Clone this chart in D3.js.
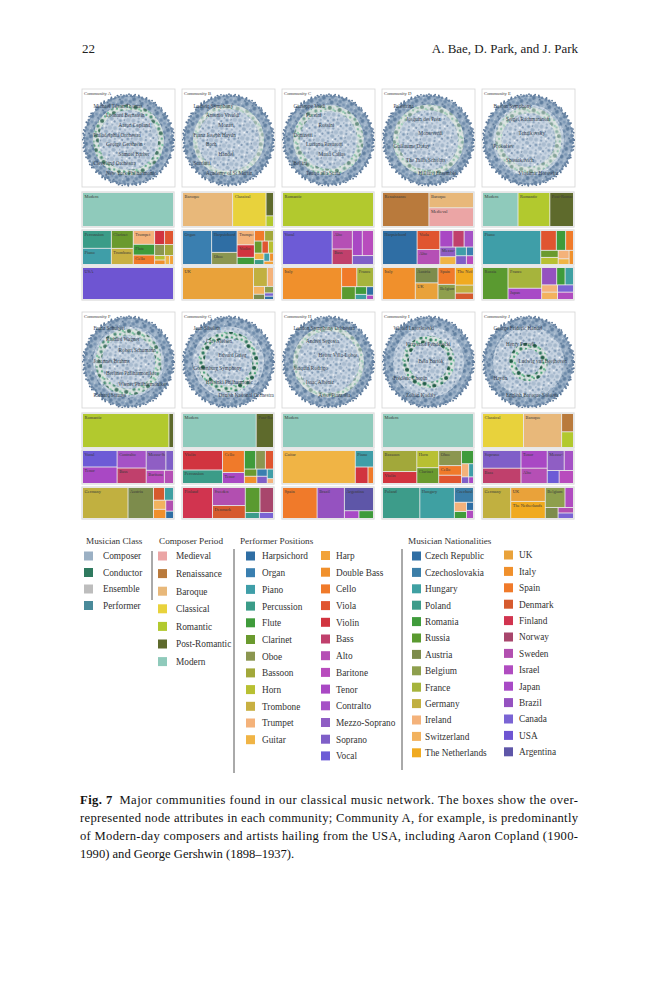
<!DOCTYPE html>
<html><head><meta charset="utf-8">
<script src="https://cdn.jsdelivr.net/npm/d3@7"></script>
<style>body{margin:0;background:#fff}svg{display:block}text{font-family:"Liberation Serif","DejaVu Serif",serif}</style>
</head><body>
<script>
// ---------------- DATA ----------------
const communityNames = ["Community A","Community B","Community C","Community D","Community E",
  "Community F","Community G","Community H","Community I","Community J"];

const musicianClasses = ["Composer","Conductor","Ensemble","Performer"];
const composerPeriods = ["Medieval","Renaissance","Baroque","Classical","Romantic","Post-Romantic","Modern"];
const performerPositions = ["Harpsichord","Organ","Piano","Percussion","Flute","Clarinet","Oboe","Bassoon","Horn","Trombone","Trumpet","Guitar",
  "Harp","Double Bass","Cello","Viola","Violin","Bass","Alto","Baritone","Tenor","Contralto","Mezzo-Soprano","Soprano","Vocal"];
const nationalities = ["Czech Republic","Czechoslovakia","Hungary","Poland","Romania","Russia","Austria","Belgium","France","Germany","Ireland","Switzerland","The Netherlands",
  "UK","Italy","Spain","Denmark","Finland","Norway","Sweden","Israel","Japan","Brazil","Canada","USA","Argentina"];

// share (%) of each over-represented attribute per community
const periodTreemaps = [
  [["Modern",100]],
  [["Baroque",54],["Classical",36],["Post-Romantic",5.5],["Romantic",2.5]],
  [["Romantic",100]],
  [["Renaissance",51],["Baroque",22],["Medieval",27]],
  [["Modern",39],["Romantic",35],["Post-Romantic",26]],
  [["Romantic",95],["Post-Romantic",5]],
  [["Modern",81],["Post-Romantic",19]],
  [["Modern",100]],
  [["Modern",100]],
  [["Classical",45],["Baroque",42],["Renaissance",7],["Romantic",6]]
];
const positionTreemaps = [
  [["Percussion",16.5],["Piano",15],["Clarinet",12.6],["Trombone",11.4],["Trumpet",9.5],["Flute",7.4],["Cello",6.5],["Violin",4.5],["Viola",4],["Oboe",3.5],["Bassoon",3.2],["Horn",1.5],["Double Bass",1.5],["Guitar",1.3],["Harp",1.1]],
  [["Organ",32],["Harpsichord",18],["Oboe",10],["Trumpet",8],["Violin",7],["Flute",4],["Cello",3.5],["Bassoon",3],["Clarinet",3],["Viola",2.5],["Horn",2],["Guitar",2],["Percussion",1.5],["Piano",1.5],["Double Bass",1],["Harp",1]],
  [["Vocal",54],["Alto",12],["Bass",10],["Tenor",8],["Baritone",9],["Soprano",6]],
  [["Harpsichord",38],["Viola",14],["Alto",11],["Tenor",7],["Bass",6],["Contralto",5],["Mezzo-Soprano",5],["Guitar",4],["Piano",3],["Soprano",3],["Organ",2],["Baritone",2]],
  [["Piano",64],["Viola",10],["Flute",6],["Cello",5],["Clarinet",4],["Horn",4],["Trumpet",3],["Guitar",2],["Double Bass",2]],
  [["Vocal",19],["Tenor",19],["Contralto",17],["Bass",15],["Mezzo-Soprano",13],["Soprano",5],["Baritone",8],["Alto",4]],
  [["Violin",26],["Percussion",18],["Cello",16],["Tenor",8],["Flute",7],["Oboe",6],["Viola",5],["Clarinet",3],["Double Bass",3],["Organ",2.5],["Soprano",2.5],["Piano",2],["Trumpet",1]],
  [["Guitar",80],["Piano",10],["Violin",7],["Cello",3]],
  [["Bassoon",23],["Violin",13],["Horn",12],["Clarinet",11],["Oboe",11],["Cello",7],["Viola",6],["Flute",5],["Trumpet",3],["Piano",2],["Soprano",1.5],["Tenor",1]],
  [["Soprano",22],["Bass",19],["Tenor",15],["Alto",13],["Mezzo-Soprano",11],["Contralto",6],["Vocal",5],["Baritone",6]]
];
const nationalityTreemaps = [
  [["USA",100]],
  [["UK",78],["Germany",9],["Ireland",4],["Switzerland",3],["Austria",2],["Belgium",2],["Canada",1],["Czech Republic",1]],
  [["Italy",65],["Spain",10],["France",11],["Russia",6],["Romania",3],["Hungary",2],["Czech Republic",2],["Israel",1]],
  [["Italy",36],["Austria",12],["UK",13],["Spain",10],["Belgium",9],["The Netherlands",11],["Germany",5],["Denmark",4]],
  [["Russia",28],["France",24],["Japan",13],["Brazil",9],["Romania",5],["Hungary",5],["Ireland",4],["Switzerland",4],["Canada",4],["Israel",4]],
  [["Germany",50],["Austria",28],["Denmark",5],["Hungary",4],["Switzerland",4],["Italy",4],["Sweden",3],["Czech Republic",2]],
  [["Finland",33],["Sweden",21],["Denmark",15],["Russia",13],["Norway",12],["Poland",3],["Canada",3]],
  [["Spain",38],["Brazil",30],["Argentina",24],["Japan",4],["Romania",4]],
  [["Poland",41],["Hungary",38],["Czechoslovakia",10],["Ireland",4],["Romania",3],["Czech Republic",2],["Israel",2]],
  [["Germany",31],["UK",17],["The Netherlands",21],["Belgium",14],["Israel",6],["Austria",5],["Sweden",3],["Canada",3]]
];
// labelled hub nodes of each community network
const networkLabels = [
  ["Michael Tilson Thomas","Leonard Bernstein","Aaron Copland","Philadelphia Orchestra","George Gershwin","Samuel Barber","Cleveland Orchestra","New York Philharmonic"],
  ["Ludwig Symphony","Antonio Vivaldi","Mozart","Franz Joseph Haydn","Bach","Handel","Scarlatti","Academy of St Martin"],
  ["Giuseppe Verdi","Puccini","Rossini","Donizetti","Luciano Pavarotti","Maria Callas","Bellini","Teatro alla Scala"],
  ["Palestrina","Josquin des Prez","Monteverdi","Guillaume Dufay","The Tallis Scholars","Hilliard Ensemble"],
  ["Boston Symphony","Sergei Rachmaninoff","Tchaikovsky","Prokofiev","Shostakovich","Vladimir Horowitz"],
  ["Franz Schubert","Richard Wagner","Robert Schumann","Johannes Brahms","Berliner Philharmoniker","Wiener Philharmoniker","Richard Strauss"],
  ["Jean Sibelius","Carl Nielsen","Edvard Grieg","Gothenburg Symphony","Helsinki Philharmonic","Danish National Orchestra"],
  ["London Symphony Orchestra","Andrés Segovia","Heitor Villa-Lobos","Joaquín Rodrigo","Isaac Albéniz","Astor Piazzolla"],
  ["Witold Lutosławski","Krzysztof Penderecki","Béla Bartók","Frédéric Chopin","Zoltán Kodály"],
  ["George Frideric Handel","Henry Purcell","Ludwig van Beethoven","Haydn","English Baroque Soloists"]
];
const captionLines = [
  "Major communities found in our classical music network. The boxes show the over-",
  "represented node attributes in each community; Community A, for example, is predominantly",
  "of Modern-day composers and artists hailing from the USA, including Aaron Copland (1900-",
  "1990) and George Gershwin (1898–1937)."
];

// ---------------- STYLES ----------------
const classColors = ["#9bb0c4","#2f7a5f","#bdbdbd","#4a8a9a"];
const periodColors = ["#eba5a5","#b97a3c","#e8b87a","#e8d23c","#b2c92e","#5e6a2c","#8fcabb"];
const positionColors = ["#2f6ea4","#3a7fb0","#3f9ea8","#3b9c88","#3f9b3b","#6a9a2e","#8b9650","#a2a83a","#b8c032","#c8b042","#f4b27a","#f0b445",
  "#f2a33a","#f0902c","#f07a2a","#e05530","#d1343f","#c0406c","#b54fb5","#b84cbd","#a948c4","#a552c6","#8f5ec4","#7f5fc8","#6d5bd6"];
const nationalityColors = ["#2f6ea4","#3b7ea8","#3fa0a2","#3d9c8a","#3f9b3b","#5a9a30","#7d8c4c","#8e9f4d","#a6b43c","#c1b040","#f4b27a","#f2b25e","#f0aa20",
  "#e9a23a","#f0902c","#f07a2a","#d65a2e","#d1344f","#a8466c","#b24fb0","#b04cc0","#a84ac6","#9552c0","#7a64d4","#6e55d2","#5e56a8"];
const ringStyle = [ [33,.8],[34,.35],[32,.6],[33,.5],[30,.45],[30,.8],[27,1],[34,.45],[23,1],[16,1] ];

const periodScale = d3.scaleOrdinal(composerPeriods, periodColors);
const positionScale = d3.scaleOrdinal(performerPositions, positionColors);
const nationScale = d3.scaleOrdinal(nationalities, nationalityColors);
const classScale = d3.scaleOrdinal(musicianClasses, classColors);

const W = 659, H = 1000;
const svg = d3.select("body").append("svg").attr("width", W).attr("height", H);
svg.append("rect").attr("width", W).attr("height", H).attr("fill", "#fff");
const defs = svg.append("defs");

function makePattern(id, size, bg, rot, dots) {
  const p = defs.append("pattern").attr("id", id).attr("patternUnits", "userSpaceOnUse")
    .attr("width", size).attr("height", size).attr("patternTransform", `rotate(${rot})`);
  if (bg) p.append("rect").attr("width", size).attr("height", size).attr("fill", bg);
  dots.forEach(([x, y, r, c]) => p.append("circle").attr("cx", x).attr("cy", y).attr("r", r).attr("fill", c));
}
makePattern("nodes", 14, "#c9d5e2", 23, [
  [2,3,1.9,"#a2b6ca"],[7,2,1.3,"#8ea6bf"],[11,4.5,2.3,"#abbdd0"],[4,8,1.6,"#839db8"],[9,9.5,2.1,"#9bb0c6"],
  [13,11,1.1,"#7590ae"],[2,12,1.4,"#afc1d4"],[6,13,1.0,"#94abc3"],[12,0.8,1.1,"#9bb0c6"],[5.3,5,0.7,"#ffffff"],
  [10.5,12.6,0.8,"#ffffff"],[0.5,7,0.9,"#94abc3"],[7.5,6,0.8,"#5a7797"]]);
makePattern("rimnodes", 9, "#9bb0c6", 31, [
  [2,2,1.8,"#6f8cab"],[6.5,3,1.5,"#7b96b4"],[4,7,1.9,"#5f7e9f"],[8,7.5,1.2,"#a8bbcf"],[1,5.5,0.9,"#4e6d90"],[8.5,0.5,0.8,"#c4d2df"]]);
makePattern("greennodes", 10, null, 12, [
  [2,3,1.7,"#2f7a5f"],[7,2,1.2,"#4aa37a"],[5,7,2.1,"#1f5c45"],[9,8,1.3,"#6cc096"],[1,9,1.0,"#3e8f6a"]]);

// header
svg.append("text").attr("x",82).attr("y",53).attr("font-size",13).attr("fill","#222").text("22");
svg.append("text").attr("x",578).attr("y",53).attr("text-anchor","end").attr("font-size",13).attr("fill","#222").text("A. Bae, D. Park, and J. Park");

// layout
const colX = i => 83 + 100 * (i % 5);
const netRows = [{y:89,h:98},{y:312,h:96}];
const tmRows = [[[193,33],[231,33],[268,31]],[[414,33],[451,32],[488,30]]];
const TW = 90;

function drawTreemap(g, data, scale, x, y, w, h, id) {
  g.append("rect").attr("x",x-1.2).attr("y",y-1.2).attr("width",w+2.4).attr("height",h+2.4)
    .attr("fill","#e9e9e9").attr("stroke","#dcdcdc").attr("stroke-width",0.8);
  const root = d3.hierarchy({children: data.map(([name,value]) => ({name, value}))}).sum(d => d.value || 0);
  d3.treemap().tile(d3.treemapSquarify.ratio(1.55)).size([w, h]).paddingInner(0.9)(root);
  const cells = g.selectAll(null).data(root.leaves()).join("g")
    .attr("transform", d => `translate(${x + d.x0},${y + d.y0})`);
  cells.append("rect").attr("width", d => d.x1 - d.x0).attr("height", d => d.y1 - d.y0)
    .attr("fill", d => scale(d.data.name));
  cells.each(function(d, j) {
    const cw = d.x1 - d.x0, ch = d.y1 - d.y0;
    if (cw < 15 || ch < 8) return;
    const cid = `clip-${id}-${j}`;
    defs.append("clipPath").attr("id", cid).append("rect").attr("width", cw - 0.5).attr("height", ch);
    d3.select(this).append("text").attr("clip-path", `url(#${cid})`)
      .attr("x", 1.6).attr("y", 5).attr("font-size", 4.4).attr("fill", "#3a3a3a").text(d.data.name);
  });
}

function drawNetwork(g, i, x, y, w, h) {
  g.append("rect").attr("x",x).attr("y",y).attr("width",w).attr("height",h)
    .attr("fill","#fff").attr("stroke","#d4d4d4").attr("stroke-width",0.8);
  const cx = x + w/2, cy = y + h/2 + 2, R = Math.min(w, h)/2 - 1.5;
  const cid = "netclip" + i;
  defs.append("clipPath").attr("id", cid).append("rect").attr("x",x).attr("y",y).attr("width",w).attr("height",h);
  const ng = g.append("g").attr("clip-path", `url(#${cid})`);
  ng.append("circle").attr("cx",cx).attr("cy",cy).attr("r",R-1).attr("fill","url(#nodes)");
  const [rr, st] = ringStyle[i];
  // pale band + green ring of conductor/performer nodes
  ng.append("circle").attr("cx",cx).attr("cy",cy).attr("r",rr).attr("fill","none")
    .attr("stroke","#e6ebe2").attr("stroke-width",6).attr("opacity",0.7);
  ng.append("circle").attr("cx",cx).attr("cy",cy).attr("r",rr).attr("fill","none")
    .attr("stroke","url(#greennodes)").attr("stroke-width",6.5).attr("opacity",st);
  // outer dense rim of nodes
  ng.append("circle").attr("cx",cx).attr("cy",cy).attr("r",R-5).attr("fill","none")
    .attr("stroke","url(#rimnodes)").attr("stroke-width",9);
  ng.append("circle").attr("cx",cx).attr("cy",cy).attr("r",R-0.6).attr("fill","none")
    .attr("stroke","#6a86a6").attr("stroke-width",2.6).attr("stroke-linecap","round")
    .attr("stroke-dasharray","0 2.9 0 4.3 0 3.4 0 5.1");
  ng.append("circle").attr("cx",cx).attr("cy",cy).attr("r",R+0.8).attr("fill","none")
    .attr("stroke","#587596").attr("stroke-width",1.8).attr("stroke-linecap","round")
    .attr("stroke-dasharray","0 6.2 0 3.7 0 8.1");
  // labels
  const labels = networkLabels[i];
  const ys = d3.scalePoint().domain(d3.range(labels.length)).range([cy - R*0.72, cy + R*0.78]);
  ng.selectAll(null).data(labels).join("text")
    .attr("x", (d, k) => cx - R*0.78 + (k % 3) * R*0.28)
    .attr("y", (d, k) => ys(k))
    .attr("font-size", 5.2).attr("fill", "#26323f").attr("opacity", 0.9).text(d => d);
  g.append("text").attr("x",x+2).attr("y",y+5.5).attr("font-size",4.8).attr("fill","#444").text(communityNames[i]);
}

communityNames.forEach((name, i) => {
  const row = Math.floor(i / 5), x = colX(i);
  const g = svg.append("g");
  drawNetwork(g, i, x - 1, netRows[row].y, 93, netRows[row].h);
  const [t1, t2, t3] = tmRows[row];
  drawTreemap(g, periodTreemaps[i], periodScale, x, t1[0], TW, t1[1], "p" + i);
  drawTreemap(g, positionTreemaps[i], positionScale, x, t2[0], TW, t2[1], "q" + i);
  drawTreemap(g, nationalityTreemaps[i], nationScale, x, t3[0], TW, t3[1], "n" + i);
});

// ---------------- LEGEND ----------------
const lg = svg.append("g").attr("fill","#333");
function legendColumn(items, scale, sx, tx, y0, step) {
  const yS = d3.scaleLinear().domain([0, 1]).range([y0, y0 + step]);
  items.forEach((name, k) => {
    lg.append("rect").attr("x", sx).attr("y", yS(k) - 4.5).attr("width", 9).attr("height", 9).attr("fill", scale(name));
    lg.append("text").attr("x", tx).attr("y", yS(k) + 3.4).attr("font-size", 9.3).attr("fill","#333").text(name);
  });
}
[["Musician Class",86],["Composer Period",159],["Performer Positions",240],["Musician Nationalities",408]].forEach(([t,x]) =>
  lg.append("text").attr("x",x).attr("y",544).attr("font-size",9.2).attr("fill","#333").text(t));
legendColumn(musicianClasses, classScale, 84, 103, 556, 16.5);
legendColumn(composerPeriods, periodScale, 158, 176, 556, 17.6);
legendColumn(performerPositions.slice(0,12), positionScale, 246, 262, 556, 16.7);
legendColumn(performerPositions.slice(12), positionScale, 321, 336, 555.5, 16.7);
legendColumn(nationalities.slice(0,13), nationScale, 412, 425, 556, 16.4);
legendColumn(nationalities.slice(13), nationScale, 504, 519, 555, 16.4);
[[152,551,600],[234,549,773],[402,549,770]].forEach(([x,a,b]) =>
  lg.append("line").attr("x1",x).attr("x2",x).attr("y1",a).attr("y2",b).attr("stroke","#555").attr("stroke-width",1));

// ---------------- CAPTION ----------------
const cap = svg.append("g").attr("fill","#111");
captionLines.forEach((line, k) => {
  const t = cap.append("text").attr("x", 80).attr("y", 804 + k * 18).attr("font-size", 12.6);
  if (k === 0) { t.append("tspan").attr("font-weight","bold").text("Fig. 7"); t.append("tspan").text("\u2002" + line); }
  else t.text(line);
  if (k < 3) t.attr("textLength", 498).attr("lengthAdjust", "spacing");
});
</script>
</body></html>
